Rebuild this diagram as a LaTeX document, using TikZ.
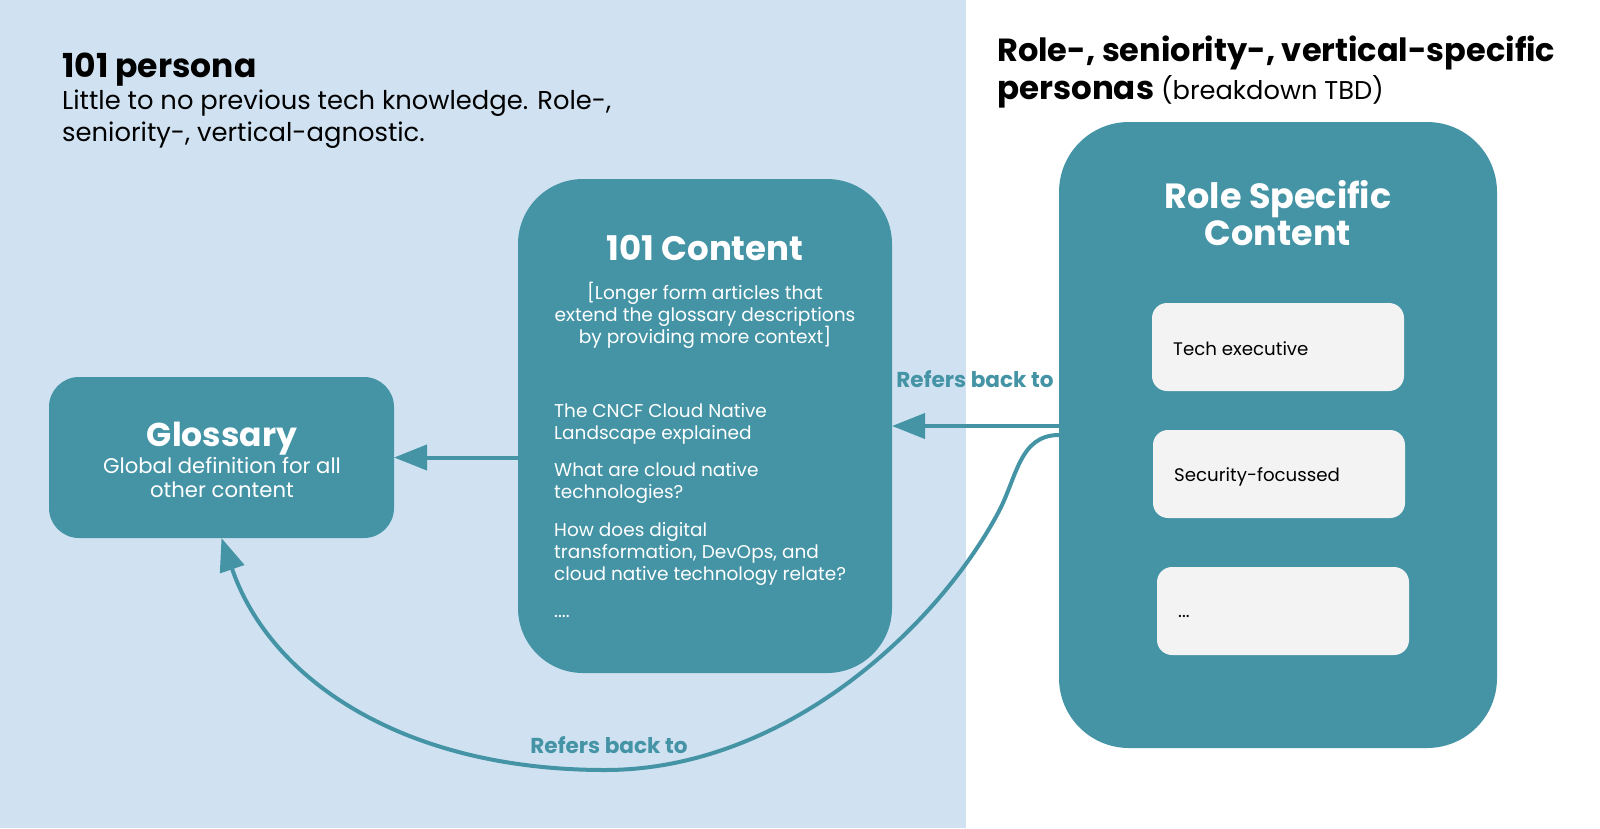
\documentclass[tikz,border=0pt]{standalone}
\usepackage{fontspec}
\setmainfont{Poppins}
\usetikzlibrary{arrows.meta}
\definecolor{tealbox}{HTML}{4494A6}
\definecolor{bgblue}{HTML}{D0E2F2}
\definecolor{boxgray}{HTML}{F3F3F3}
\begin{document}
\begin{tikzpicture}[x=1pt,y=-1pt,
  panel/.style={fill=tealbox, draw=none, outer sep=0pt, inner sep=0pt},
  card/.style={fill=boxgray, draw=none, outer sep=0pt, inner sep=0pt, rounded corners=15pt,
    minimum width=252pt, minimum height=88pt},
  arr/.style={draw=tealbox, line width=4pt, -{Triangle[length=33pt,width=25pt]}},
  reflbl/.style={text=tealbox, font=\fontsize{21.6}{24}\selectfont\bfseries, anchor=base, inner sep=0pt},
  wtxt/.style={text=white, inner sep=0pt},
  btxt/.style={text=black, inner sep=0pt}]
\path[use as bounding box, fill=white] (0,0) rectangle (1600,828);
\fill[bgblue] (0,0) rectangle (966,828);

% headings
\node[btxt, anchor=base west, font=\fontsize{33}{38}\selectfont\bfseries] (ttlL) at (62,77) {101 persona};
\node[btxt, anchor=base west, font=\fontsize{25.8}{37}\selectfont] (subL1) at (62,109) {Little to no previous tech knowledge. Role-,};
\node[btxt, anchor=base west, font=\fontsize{25.8}{37}\selectfont] (subL2) at (62,141) {seniority-, vertical-agnostic.};
\node[btxt, anchor=base west, font=\fontsize{32}{40}\selectfont\bfseries] (ttlR1) at (997,61) {Role-, seniority-, vertical-specific};
\node[btxt, anchor=base west] (ttlR2) at (997,99) {\fontsize{32.5}{40}\selectfont\bfseries personas \fontsize{25.7}{30}\selectfont\mdseries (breakdown TBD)};

% boxes
\node[panel, rounded corners=30pt, minimum width=345pt, minimum height=161pt] (glossary) at (221.5,457.5) {};
\node[panel, rounded corners=65pt, minimum width=374pt, minimum height=494pt] (content) at (705,426) {};
\node[panel, rounded corners=70pt, minimum width=438pt, minimum height=626pt] (role) at (1278,435) {};
\node[card] (tech) at (1278,347) {};
\node[card] (sec) at (1279,474) {};
\node[card] (more) at (1283,611) {};

% glossary text
\node[wtxt, anchor=base, font=\fontsize{33}{36}\selectfont\bfseries] (glT) at (222,446) {Glossary};
\node[wtxt, anchor=base, font=\fontsize{21.2}{24}\selectfont] (glD1) at (222,473) {Global definition for all};
\node[wtxt, anchor=base, font=\fontsize{21.2}{24}\selectfont] (glD2) at (222,497) {other content};

% 101 content text
\node[wtxt, anchor=base, font=\fontsize{34}{36}\selectfont\bfseries] (ctT) at (705,260) {101 Content};
\node[wtxt, anchor=base, font=\fontsize{18.6}{22}\selectfont] (ctD1) at (705,299) {[Longer form articles that};
\node[wtxt, anchor=base, font=\fontsize{18.6}{22}\selectfont] (ctD2) at (705,321) {extend the glossary descriptions};
\node[wtxt, anchor=base, font=\fontsize{18.6}{22}\selectfont] (ctD3) at (705,343) {by providing more context]};
\begin{scope}[every node/.style={wtxt, anchor=base west, font=\fontsize{18.5}{22}\selectfont}]
\node (li1a) at (554,417) {The CNCF Cloud Native};
\node (li1b) at (554,439) {Landscape explained};
\node (li2a) at (554,476) {What are cloud native};
\node (li2b) at (554,498) {technologies?};
\node (li3a) at (554,536) {How does digital};
\node (li3b) at (554,558) {transformation, DevOps, and};
\node (li3c) at (554,580) {cloud native technology relate?};
\node (li4) at (554,617) {....};
\end{scope}

% role text
\node[wtxt, anchor=base, font=\fontsize{35}{38}\selectfont\bfseries] (rlT1) at (1278,208) {Role Specific};
\node[wtxt, anchor=base, font=\fontsize{35}{38}\selectfont\bfseries] (rlT2) at (1278,245) {Content};
\node[btxt, anchor=base west, font=\fontsize{18.2}{22}\selectfont] (techT) at (1173,355) {Tech executive};
\node[btxt, anchor=base west, font=\fontsize{18.2}{22}\selectfont] (secT) at (1174,481) {Security-focussed};
\node[btxt, anchor=base west, font=\fontsize{18.2}{22}\selectfont] (moreT) at (1178,617) {...};

% connectors
\draw[arr] (role.west |- content.east) -- (content.east);
\draw[arr] (content.west |- glossary.east) -- (glossary.east);
\draw[arr] (role.west) .. controls (1019,435) and (1017,478) .. (998,513)
  .. controls (937,627) and (785,770) .. (605,770)
  .. controls (405,770) and (270.5,681) .. (glossary.south);
\node[reflbl] (lblA) at (975,387) {Refers back to};
\node[reflbl] (lblB) at (609,753) {Refers back to};
\end{tikzpicture}
\end{document}
